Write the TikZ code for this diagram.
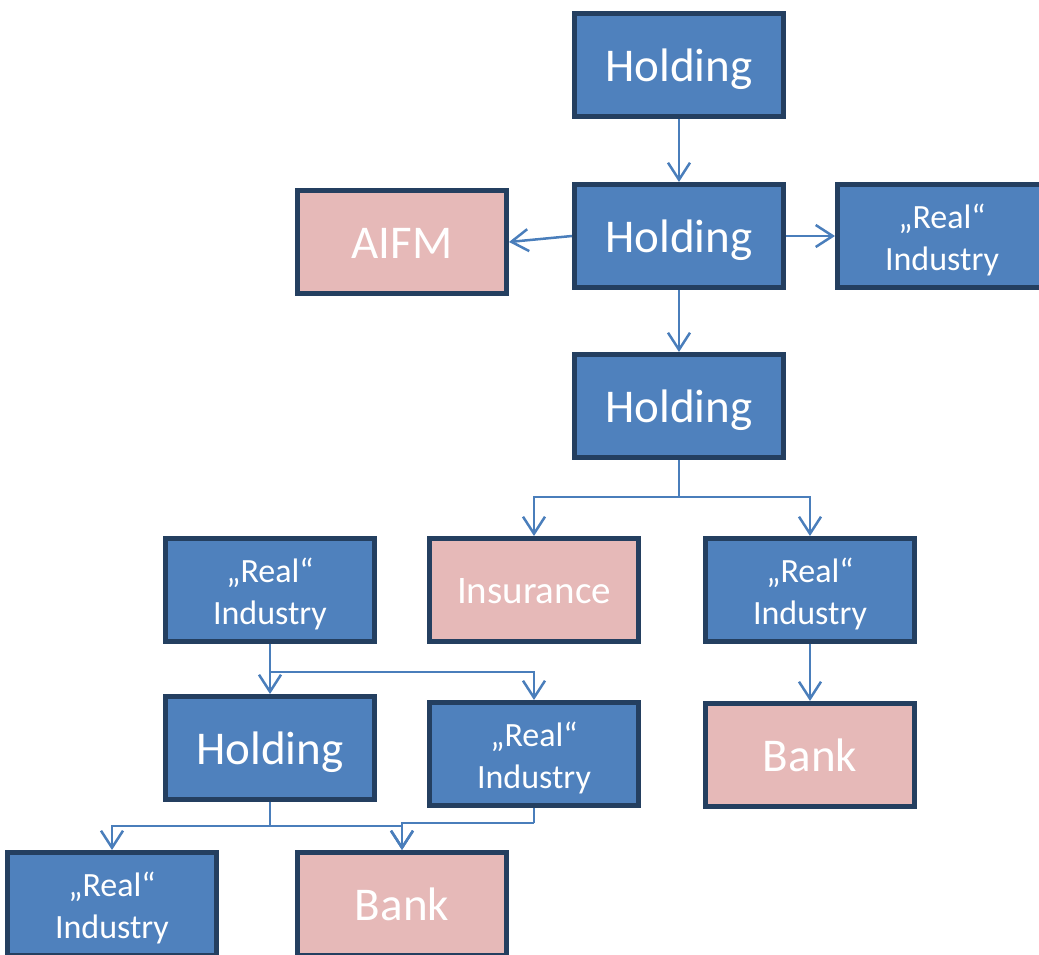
\documentclass[tikz,border=0pt]{standalone}
\usepackage{fontspec}
\setmainfont{Carlito}
\usetikzlibrary{arrows.meta}
\definecolor{boxblue}{HTML}{4F81BD}
\definecolor{boxpink}{HTML}{E6B9B8}
\definecolor{boxborder}{HTML}{243F60}
\definecolor{connblue}{HTML}{4A7EBB}
\tikzset{
  box/.style={draw=boxborder, line width=5pt, minimum width=209pt, minimum height=103pt, inner sep=0pt, text=white, align=center},
  bluebox/.style={box, fill=boxblue},
  pinkbox/.style={box, fill=boxpink},
  bigtxt/.style={font=\fontsize{47}{56}\selectfont, text height=33pt, text depth=0pt},
  ritxt/.style={font=\fontsize{34}{42}\selectfont, text height=68pt, text depth=0pt},
  instxt/.style={font=\fontsize{39}{46}\selectfont, text height=27.5pt, text depth=0pt},
  conn/.style={draw=connblue, line width=2.5pt, -{Straight Barb[length=17pt,width=22pt]}},
  plain/.style={draw=connblue, line width=2.5pt}
}
\begin{document}
\begin{tikzpicture}[x=1pt,y=-1pt]
\useasboundingbox (0,0) rectangle (1039,955);
\begin{scope}
\clip (0,0) rectangle (1039,955);
\node[bluebox,bigtxt] (H1) at (679,65) {Holding};
\node[bluebox,bigtxt] (H2) at (679,236) {Holding};
\node[pinkbox,bigtxt] (AIFM) at (402,242) {AIFM};
\node[bluebox,ritxt] (RIa) at (942,236) {„Real“\\Industry};
\node[bluebox,bigtxt] (H3) at (679,406) {Holding};
\node[bluebox,ritxt] (RIb) at (270,590) {„Real“\\Industry};
\node[pinkbox,instxt] (Ins) at (534,590) {Insurance};
\node[bluebox,ritxt] (RIc) at (810,590) {„Real“\\Industry};
\node[bluebox,bigtxt] (H4) at (270,748) {Holding};
\node[bluebox,ritxt] (RId) at (534,754) {„Real“\\Industry};
\node[pinkbox,bigtxt] (BankA) at (810,755) {Bank};
\node[bluebox,ritxt] (RIe) at (112,904) {„Real“\\Industry};
\node[pinkbox,bigtxt] (BankB) at (402,904) {Bank};

\coordinate (j1) at (679,497);
\coordinate (j2) at (270,672);
\coordinate (j3) at (270,826);
\coordinate (j4) at (534,823);

\draw[conn] (H1.south) -- (H2.north);
\draw[conn] (H2.west) -- (AIFM.east);
\draw[conn] (H2.east) -- (RIa.west);
\draw[conn] (H2.south) -- (H3.north);
\draw[plain] (H3.south) -- (j1);
\draw[conn] (j1) -| (Ins.north);
\draw[conn] (j1) -| (RIc.north);
\draw[conn] (RIc.south) -- (BankA.north);
\draw[plain] (RIb.south) -- (j2);
\draw[conn] (j2) -- (H4.north);
\draw[conn] (j2) -| (RId.north);
\draw[plain] (H4.south) -- (j3);
\draw[conn] (j3) -| (RIe.north);
\draw[conn] (j3) -| (BankB.north);
\draw[plain] (RId.south) -- (j4);
\draw[conn] (j4) -| (BankB.north);
\end{scope}
\end{tikzpicture}
\end{document}
